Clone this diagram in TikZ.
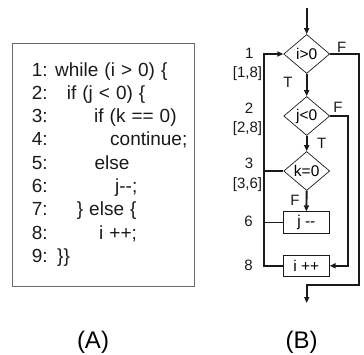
\documentclass[tikz,border=0pt]{standalone}
\usepackage{fontspec}
\setmainfont{Liberation Sans}
\usetikzlibrary{arrows.meta, shapes.geometric}
\definecolor{cline}{HTML}{1a1a1a}
\definecolor{cframe}{HTML}{6b6b6b}

\begin{document}
\begin{tikzpicture}[
  x=1pt, y=-1pt,
  >={Triangle[length=6pt, width=5pt]},
  code/.style={anchor=base west, inner sep=0pt, text=cline,
               font=\fontsize{19}{22}\selectfont,
               execute at begin node={\spaceskip=6pt\relax}},
  frame/.style={draw=cframe, line width=1.2pt, minimum width=181.6pt,
                minimum height=243.4pt, inner sep=0pt},
  lbl/.style={inner sep=0pt, text=cline, font=\fontsize{15}{18}\selectfont},
  dia/.style={diamond, draw=cline, line width=0.7pt, inner sep=0pt,
              minimum width=46pt, minimum height=39pt,
              font=\fontsize{15.5}{18}\selectfont},
  blk/.style={rectangle, draw=cline, line width=0.7pt, inner sep=0pt,
              minimum width=46pt, minimum height=21.6pt,
              font=\fontsize{15.5}{18}\selectfont},
  arr/.style={->, line width=1.9pt, draw=cline},
  wire/.style={line width=1.9pt, draw=cline},
  subcap/.style={inner sep=0pt, font=\fontsize{24}{28}\selectfont},
  ]
\useasboundingbox (0,0) rectangle (364,354);
% ---- (A): the source listing
\node[frame] (listing) at (103.5,165) {};
\foreach \x/\t [count=\n] in {
    55/{while (i > 0) \{},
    66.7/{if (j < 0) \{},
    94/{if (k == 0)},
    110/{continue;},
    94.3/{else},
    115/{j\mbox{-}\mbox{-};},
    76.7/{\} else \{},
    99/{i ++;},
    57/{\}\}}}{
  \node[code] (num\n) at (31.7, 76+23.3*\n-23.3) {\n:};
  \node[code] (line\n) at (\x, 76+23.3*\n-23.3) {\t};
}
\node[subcap] (capA) at (93,342) {(A)};
% ---- (B): the flow graph
\node[dia] (d1) at (306.7,54) {i>0};
\node[dia] (d2) at (306.7,116) {j<0};
\node[dia] (d3) at (306.7,171) {k=0};
\node[blk] (b1) at (306.3,222.5) {j \mbox{-}\mbox{-}};
\node[blk] (b2) at (306.3,265.8) {i ++};
\coordinate (in) at (306.7,8);
\coordinate (out) at (306.7,303);
\coordinate (back) at (264.3,54);
\coordinate (fj) at (348.3,116);
\coordinate (fi) at (359,54);
\coordinate (join) at (306.7,285);
% line numbers and ranges
\node[lbl] (n1) at (249.3,53) {1};
\node[lbl] (r1) at (247.5,74) {[1,8]};
\node[lbl] (n2) at (249,108) {2};
\node[lbl] (r2) at (247.5,129) {[2,8]};
\node[lbl] (n3) at (249,163.3) {3};
\node[lbl] (r3) at (247.5,184.3) {[3,6]};
\node[lbl] (n6) at (248.5,221.7) {6};
\node[lbl] (n8) at (248.5,265) {8};
% branch labels
\node[lbl] (t1) at (288,82) {T};
\node[lbl] (t2) at (321.7,143) {T};
\node[lbl] (f1) at (341.7,47) {F};
\node[lbl] (f2) at (338,107) {F};
\node[lbl] (f3) at (295,200) {F};
% arrows down the spine
\draw[arr] (in) -- (d1.north);
\draw[arr] (d1.south) -- (d2.north);
\draw[arr] (d2.south) -- (d3.north);
\draw[arr] (d3.south) -- (b1.north);
% back edge
\draw[arr] (b2.west) -| (back) -- (d1.west);
\draw[wire] (d3.west) -- (d3.west -| back);
\draw[wire] (b1.west) -- (b1.west -| back);
% false branches
\draw[arr] (d2.east) -- (fj) |- (b2.east);
\draw[arr] (d1.east) -- (fi) |- (join) -- (out);
\node[subcap] (capB) at (301.7,342) {(B)};
\end{tikzpicture}
\end{document}
